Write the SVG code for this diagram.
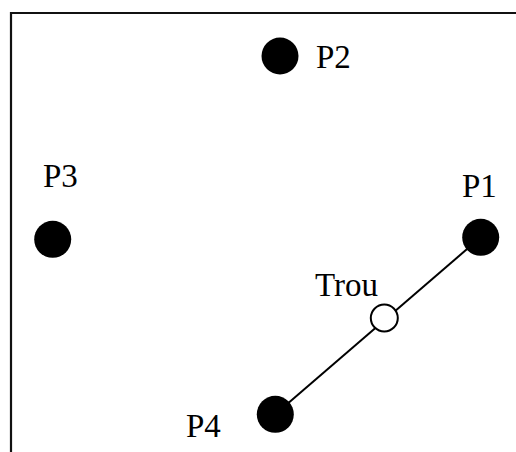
<svg xmlns="http://www.w3.org/2000/svg" width="516" height="452" viewBox="0 0 516 452">
<style>
.lbl{font-family:"Liberation Serif","Times New Roman",serif;font-size:33px;fill:#000}
.dot{fill:#000}
.hole{fill:#fff;stroke:#000;stroke-width:2}
.frame{fill:none;stroke:#111;stroke-width:2.2}
.conn{stroke:#000;stroke-width:2;fill:none}
</style>
<rect width="516" height="452" fill="#fff"/>
<path class="frame" d="M11,452 V13 H516"/>
<g id="connectors">
<line class="conn" x1="480.7" y1="237.3" x2="275.3" y2="414.3"/>
</g>
<g id="P1">
<circle class="dot" cx="480.7" cy="237.3" r="18.5"/>
<text class="lbl" x="462" y="197">P1</text>
</g>
<g id="P2">
<circle class="dot" cx="280" cy="56" r="18.5"/>
<text class="lbl" x="316" y="68">P2</text>
</g>
<g id="P3">
<circle class="dot" cx="52.7" cy="239.3" r="18.5"/>
<text class="lbl" x="43" y="187">P3</text>
</g>
<g id="P4">
<circle class="dot" cx="275.3" cy="414.3" r="18.5"/>
<text class="lbl" x="186" y="437">P4</text>
</g>
<g id="Trou">
<circle class="hole" cx="384.3" cy="318" r="13.5"/>
<text class="lbl" x="315" y="296">Trou</text>
</g>
</svg>
